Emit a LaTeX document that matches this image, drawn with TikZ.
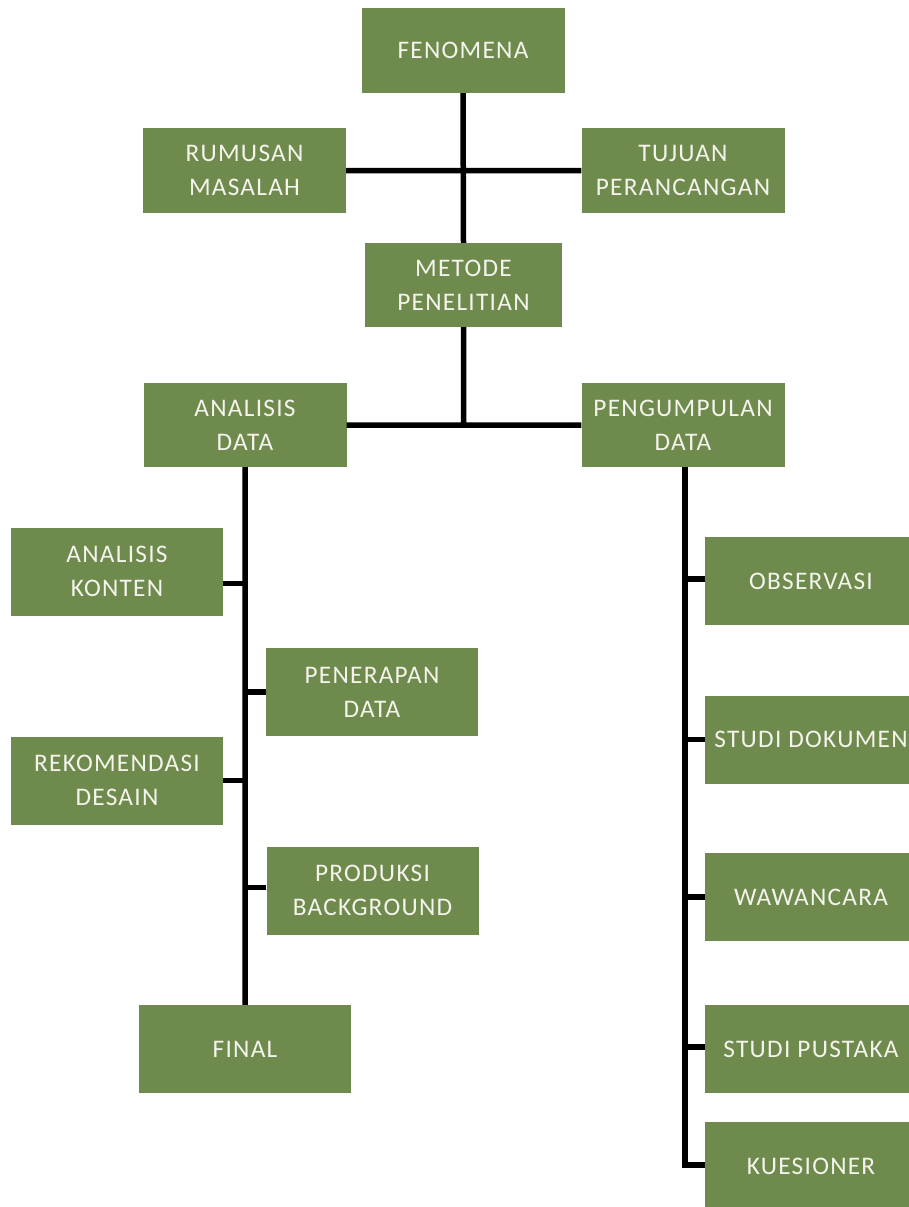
\documentclass[tikz,border=0pt]{standalone}
\usepackage{fontspec}
\setmainfont{Carlito}[LetterSpace=5]
\definecolor{olivebox}{HTML}{6F8A4D}
\definecolor{boxtext}{HTML}{F4F4EC}

\begin{document}
\begin{tikzpicture}[x=1pt, y=-1pt,
    box/.style={shape=rectangle, fill=olivebox, text=boxtext, align=center,
      minimum width=203pt, minimum height=85pt, inner sep=0pt,
      font=\fontsize{25.3}{34}\selectfont},
    wbox/.style={box, minimum width=212pt, minimum height=88pt},
    link/.style={line width=5.5pt, black}]
          \useasboundingbox (0,0) rectangle (909,1207);
          \clip (0,0) rectangle (909,1207);

          % nodes
          \node[box] at (463,50.5)
          (fen) {FENOMENA};
          \node[box] at (244.5,170.5)
          (rum) {RUMUSAN\\MASALAH};
          \node[box] at (683,170.5)
          (tuj) {TUJUAN\\PERANCANGAN};
          \node[box, minimum width=197pt, minimum height=84pt] at (463.5,285)
          (met) {METODE\\PENELITIAN};
          \node[box, minimum height=84pt] at (245,425)
          (ana) {ANALISIS\\DATA};
          \node[box, minimum height=84pt] at (683,425)
          (pen) {PENGUMPULAN\\DATA};

          \node[wbox] at (117,571.5)
          (akon) {ANALISIS\\KONTEN};
          \node[wbox] at (372,692)
          (pener) {PENERAPAN\\DATA};
          \node[wbox] at (117,780.5)
          (rek) {REKOMENDASI\\DESAIN};
          \node[wbox] at (372.5,890.5)
          (prod) {PRODUKSI\\BACKGROUND};
          \node[wbox] at (245,1049)
          (fin) {FINAL};

          \node[wbox] at (811,581)
          (obs) {OBSERVASI};
          \node[wbox] at (811,739.5)
          (sdok) {STUDI DOKUMEN};
          \node[wbox] at (811,897)
          (waw) {WAWANCARA};
          \node[wbox] at (811,1049)
          (spus) {STUDI PUSTAKA};
          \node[wbox] at (811,1166)
          (kues) {KUESIONER};

          % arcs
          \draw[link]
          (fen.south) -- (met.north)
          (rum.east) -- (tuj.west)
          (met.south) -- (met.south |- ana.east)
          (ana.east) -- (pen.west)
          (ana.south) -- (fin.north)
          ;
          \draw[link]
          ([yshift=-12pt]akon.east) -- ([yshift=-12pt]akon.east -| ana.south)
          (pener.west) -- (pener.west -| ana.south)
          (rek.east) -- (rek.east -| ana.south)
          ([yshift=3pt]prod.west) -- ([yshift=3pt]prod.west -| ana.south)
          ;
          \draw[link, line join=miter]
          ([xshift=2pt]pen.south) |- ([yshift=1pt]kues.west)
          ;
          \draw[link]
          ([yshift=2pt]obs.west) -- ([xshift=2pt,yshift=2pt]obs.west -| pen.south)
          (sdok.west) -- ([xshift=2pt]sdok.west -| pen.south)
          (waw.west) -- ([xshift=2pt]waw.west -| pen.south)
          ([yshift=2pt]spus.west) -- ([xshift=2pt,yshift=2pt]spus.west -| pen.south)
          ;
        \end{tikzpicture}
\end{document}
